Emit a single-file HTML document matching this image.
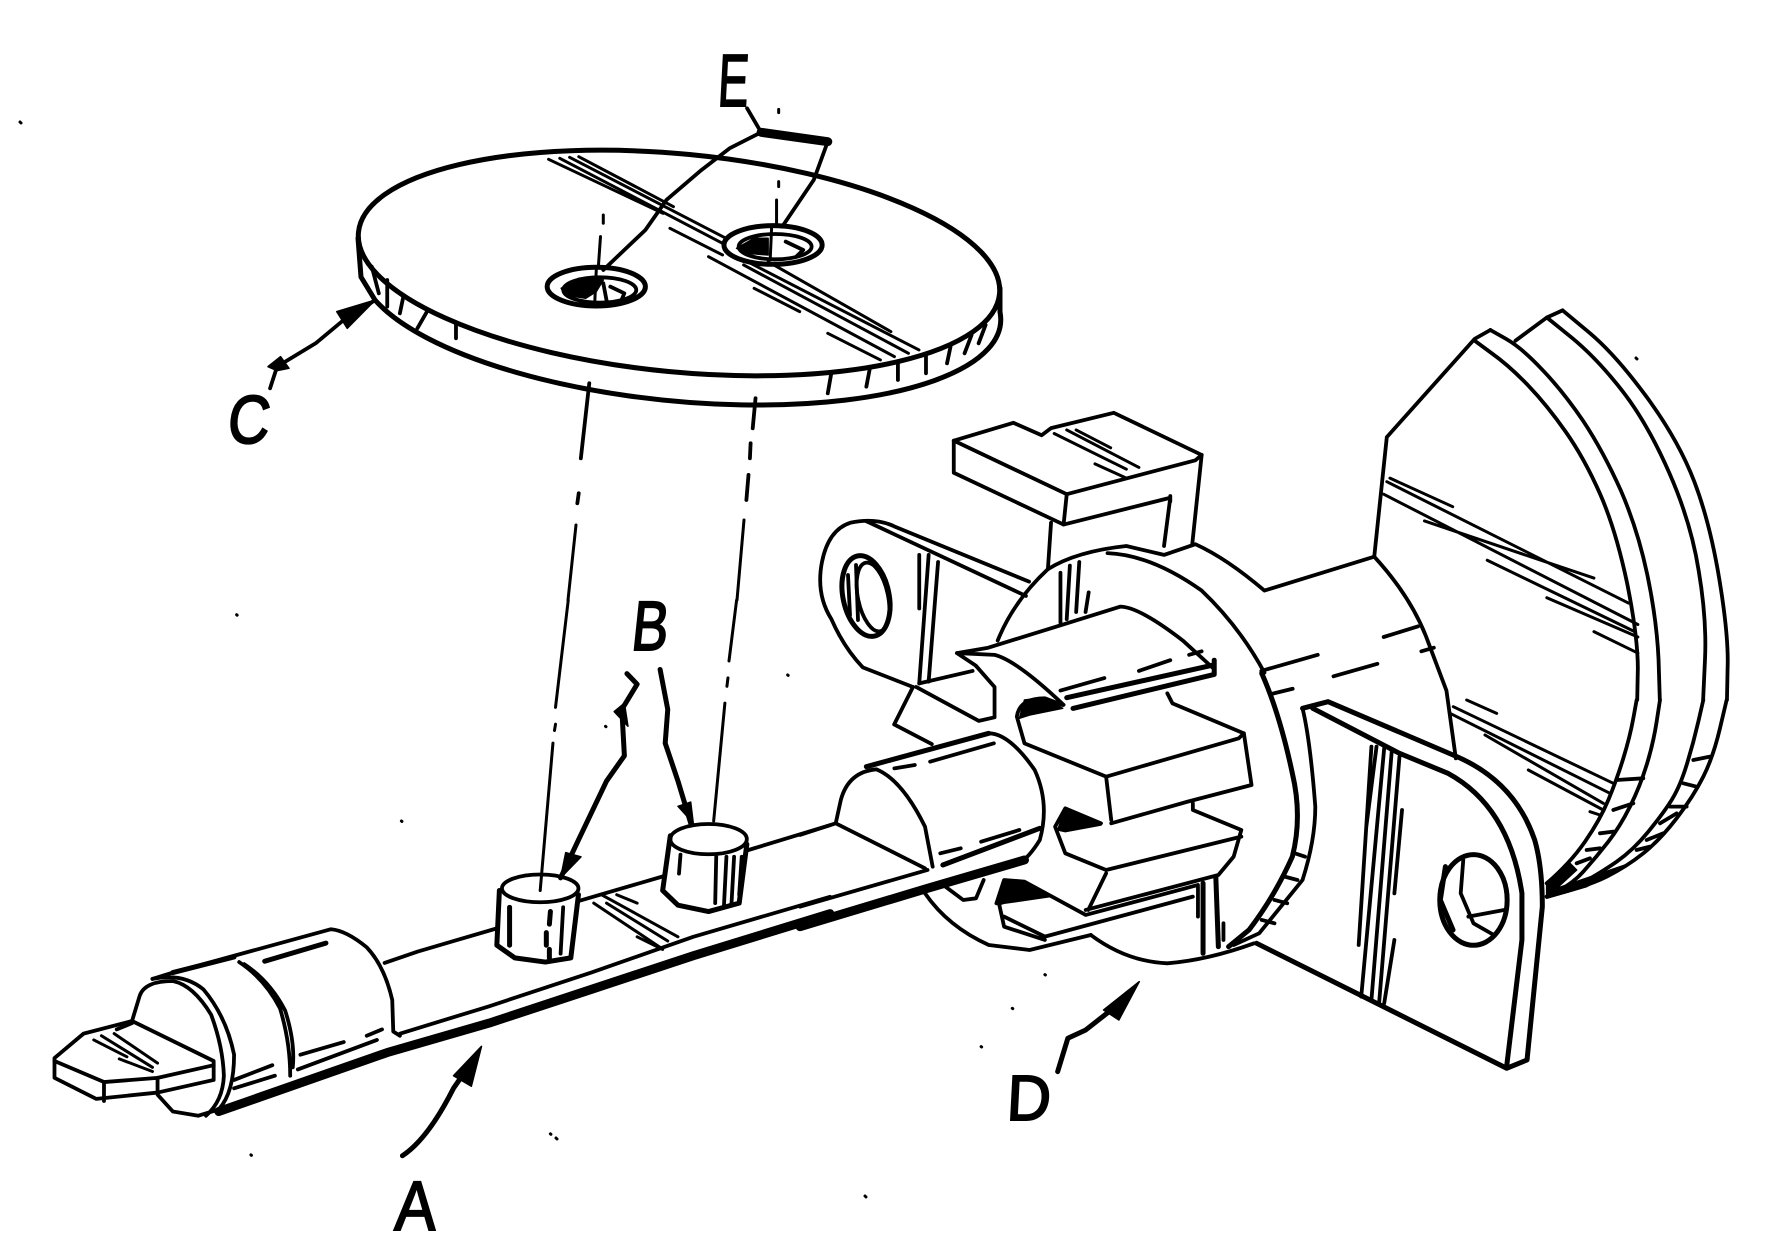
<!DOCTYPE html>
<html><head><meta charset="utf-8"><title>Diagram</title>
<style>
html,body{margin:0;padding:0;background:#fff;width:1784px;height:1260px;overflow:hidden}
svg{display:block}
path,ellipse,line{vector-effect:non-scaling-stroke}
.l{fill:none;stroke:#000;stroke-width:3.8;stroke-linejoin:round;stroke-linecap:round}
.n{stroke-width:3}
.t{stroke-width:5}
.x{stroke-width:9}
.f{fill:#000;stroke:#000;stroke-width:1.5;stroke-linejoin:round}
text{font-family:"Liberation Sans",sans-serif;fill:#000;stroke:#000;stroke-width:2}
</style></head><body>
<svg xmlns="http://www.w3.org/2000/svg" width="1784" height="1260" viewBox="0 0 1784 1260">
<rect width="1784" height="1260" fill="#fff"/>

<!-- Disc (real pixel coordinates) -->
<ellipse class="l t" cx="679" cy="263" rx="322" ry="109" transform="rotate(5.5 679 263)"/>
<path class="l t" d="M358 238L361 277L375 300A322 109 5.5 0 0 1000 312L1000 288"/>

<g transform="scale(.7015,.3333)">
<path class="l" d="M530 800L540 880M552 840L552 920M575 890L570 940M610 930L595 985M650 975L650 1015M1185 1120L1180 1180M1240 1105L1235 1160M1280 1090L1280 1140M1320 1065L1320 1120M1355 1040L1350 1090M1385 1005L1375 1060M1405 975L1395 1030"/>
<path class="l n" d="M825 470L960 620M1095 785L1270 995M812 472L1035 715M1070 790L1310 1050M798 475L1030 730M1060 795L1295 1060M782 478L945 640M1010 770L1275 1070M955 685L1030 765M1075 865L1140 935M1180 1000L1255 1080"/>
<ellipse class="l t" cx="850" cy="860" rx="70" ry="58"/>
<ellipse class="l" cx="855" cy="870" rx="52" ry="38"/>
<path class="f" d="M800 865L825 835L860 840L850 875L835 895L805 885Z"/>
<path class="l" d="M870 860L890 880L885 905M860 850L865 905"/>
<ellipse class="l t" cx="1102" cy="735" rx="70" ry="58"/>
<ellipse class="l" cx="1105" cy="740" rx="52" ry="38"/>
<path class="f" d="M1050 745L1075 715L1095 715L1095 765L1065 760Z"/>
<path class="l" d="M1120 725L1145 750L1135 770"/>
<path class="l" d="M1065 325L1085 397M1180 425L1160 540L1115 680M1085 397L1040 445L1000 510L950 600L920 690L860 810"/>
<path class="l x" d="M1085 397L1180 425"/>
<path class="l n" d="M1110 328L1110 338M1110 545L1110 560M1107 600L1107 680M1100 680L1098 775M860 645L860 670M856 710L853 800M850 810L848 900"/>
<path class="l" d="M385 1165L395 1100L450 1030L490 960L535 900"/>
<path class="f" d="M480 935L535 900L495 985Z"/>
<path class="f" d="M382 1100L400 1070L412 1105L395 1112Z"/>
<path class="l" d="M840 1150L828 1375M825 1480L823 1510M1077 1195L1073 1285M1070 1330L1069 1375M1067 1425L1064 1500"/>
</g>

<!-- Centerline joins -->
<path class="l n" d="M576 525L568 600M744 520L737 600"/>

<!-- Left rail, tip, pins -->
<g transform="translate(30,600) scale(.5102,.421)">
<path class="l n" d="M1055 0L1030 255M1030 295L1028 310M1025 340L1000 690M1385 0L1370 145M1368 185L1366 205M1362 245L1340 525"/>
<path class="l" d="M48 1088L105 1030L200 1000L360 1095L360 1140L250 1170L130 1185L48 1135Z"/>
<path class="l" d="M48 1095L145 1145L250 1135L360 1105M145 1145L145 1190M250 1135L250 1175L280 1215L330 1225L370 1210M170 1020L200 1005"/>
<path class="l n" d="M125 1045L190 1085M140 1035L240 1110M165 1030L250 1100M175 1090L240 1120"/>
<path class="l" d="M200 1000L215 940Q225 905 280 905Q320 915 355 985Q378 1060 380 1130Q378 1190 345 1225"/>
<path class="l" d="M240 900Q300 885 340 925Q385 990 400 1080Q400 1170 370 1210"/>
<path class="l" d="M240 900L280 885L400 845L590 782Q620 785 660 825Q695 870 710 950L712 1025L725 1035"/>
<path class="l" d="M410 860Q460 900 490 970Q510 1050 510 1130M420 865Q470 905 500 975Q520 1050 515 1110"/>
<path class="l t" d="M460 858L580 815M280 885L400 848"/>
<path class="l" d="M400 1140L475 1105M400 1160L480 1130M530 1080L615 1050M660 1035L690 1020M525 1115L680 1045M695 862L760 835L830 810L915 780M1075 715L1245 655M1405 595L1568 535"/>
<path class="l" d="M725 1030L900 965L1100 885L1300 800L1568 705"/>
<path class="l x" d="M370 1215L700 1075L900 1005L1100 925L1300 845L1568 745"/>
<!-- pin 1 -->
<ellipse class="l" cx="1000" cy="685" rx="75" ry="33"/>
<path class="l t" d="M920 690L915 820L950 850L1010 860L1060 850L1075 700"/>
<path class="l t" d="M940 730L940 820M1020 740L1018 770M1012 790L1012 820M1018 830L1018 850"/>
<path class="l" d="M1045 730L1040 840"/>
<!-- pin 2 -->
<ellipse class="l" cx="1330" cy="568" rx="75" ry="36"/>
<path class="l t" d="M1255 560L1240 690L1270 725L1330 740L1390 720L1405 580"/>
<path class="l" d="M1275 605L1272 650M1345 610L1343 720M1365 610L1360 730M1380 610L1375 720M1395 610L1390 700"/>
<path class="l n" d="M1120 700L1270 800M1105 720L1235 825M1150 700L1190 720M1130 720L1250 810M1190 800L1240 830"/>
<!-- leaders -->
<path class="l t" d="M1170 175L1190 200L1160 260L1165 370L1130 430L1075 570L1040 660"/>
<path class="f" d="M1145 265L1165 245L1172 300Z"/>
<path class="f" d="M1050 600L1080 610L1040 660Z"/>
<path class="l t" d="M1235 165L1250 260L1245 340L1270 430L1295 530"/>
<path class="f" d="M1270 490L1295 480L1300 530Z"/>
<path class="l t" d="M730 1320Q780 1280 830 1160L870 1090"/>
<path class="f" d="M830 1130L885 1060L865 1155Z"/>
<path class="l n" d="M405 35L406 36M728 525L729 526M433 1318L434 1319M1020 1268L1021 1269M1485 178L1486 179M1128 300L1129 301"/>
</g>

<!-- Left lug hole (real pixel coordinates) -->
<ellipse class="l t" cx="866" cy="596" rx="23" ry="41" transform="rotate(-12 866 596)"/>
<ellipse class="l" cx="873" cy="597" rx="15" ry="35" transform="rotate(-12 873 597)"/>
<path class="l" d="M848 575L850 615M856 565L858 620"/>

<!-- Upper right -->
<g transform="translate(800,280) scale(.6276,.357)">
<path class="l" d="M245 450L340 400L385 435L400 415L500 372L640 490L630 505L425 600Z"/>
<path class="l" d="M245 450L245 540L420 685L425 600M420 685L590 610L580 745M640 490L625 740M590 605L590 620M400 680L395 810"/>
<path class="l n" d="M405 430L520 530M425 420L540 525M440 420L495 470M470 515L520 555"/>
<path class="l" d="M365 845L150 690Q120 665 80 680Q45 700 35 790Q25 880 50 950Q70 1030 100 1085L180 1140M105 675L360 885"/>
<path class="l" d="M190 770L190 920M205 770L190 1130M220 790L205 1125"/>
<path class="l" d="M180 1140L150 1245L210 1300M185 1140L285 1235L310 1225L310 1140L280 1080L250 1045L300 1030L410 970L510 915Q540 915 610 1010L660 1090M250 1045L310 1050Q345 1065 420 1190M190 1130L275 1095"/>
<path class="l" d="M415 1150L485 1115M540 1095L590 1065M620 1050L640 1040"/>
<path class="l t" d="M425 1170L660 1078M435 1200L660 1105M660 1065L660 1105"/>
<path class="l" d="M315 1010Q340 900 395 810Q440 760 520 745L580 770L630 740Q680 780 740 870L915 775M490 765Q560 770 640 870Q700 970 740 1100"/>
<path class="l" d="M415 820L415 960M430 800L425 950M445 790L440 930M460 875L455 930"/>
<path class="l" d="M915 775Q975 890 1000 1010L1030 1150L1045 1340M915 775L935 440L1075 165L1100 140"/>
<path class="l" d="M1075 170L1102 205Q1130 240 1160 295Q1190 350 1220 425Q1250 500 1275 600Q1300 700 1318 850Q1335 1000 1335 1088L1334 1176"/>
<path class="l" d="M1100 140L1125 165Q1150 190 1182 250Q1215 310 1248 395Q1280 480 1308 590Q1335 700 1350 825Q1365 950 1368 1063L1370 1176"/>
<path class="l" d="M1140 170L1190 105L1215 85"/>
<path class="l" d="M1190 105L1230 162Q1270 220 1310 310Q1350 400 1385 540Q1420 680 1432 815Q1445 950 1442 1063L1439 1176"/>
<path class="l" d="M1215 85L1258 148Q1300 210 1350 330Q1400 450 1425 565Q1450 680 1465 840Q1480 1000 1478 1088L1477 1176"/>
<path class="l n" d="M935 565L1320 905M930 600L1335 965M995 675L1265 835M1095 785L1330 985M1190 890L1335 1000M1265 985L1335 1045M940 555L1040 635"/>
<path class="l" d="M930 1000L985 970M990 1040L1010 1030M735 1095L825 1050M850 1110L920 1075M750 1160L785 1145"/>
</g>

<!-- Lower middle -->
<g transform="translate(800,640) scale(.5102,.3333)">
<path class="l" d="M70 550L0 585M70 550L80 480Q95 395 150 388Q200 420 245 560L260 680M70 550L245 685M370 280Q410 280 460 390Q490 490 470 600Q450 650 430 670L260 740"/>
<path class="l t" d="M130 380L370 280"/>
<path class="l" d="M255 365L380 310M185 385L225 375M275 640L315 625M355 605L430 570"/>
<path class="l t" d="M280 675L470 565"/>
<path class="l" d="M0 800L250 690"/>
<path class="l x" d="M0 860L250 745L440 660"/>
<path class="l" d="M245 760Q290 860 370 915L450 930L570 885M285 740L320 780L345 775L360 720"/>
<path class="l" d="M720 160L730 190L870 280L860 295L600 410L440 310L425 230Q430 175 480 175L515 195M870 280L885 435L760 485L610 550M600 410L610 540"/>
<path class="f" d="M430 235L440 180L480 172L515 205L450 225Z"/>
<path class="l" d="M770 490L770 510L865 570L850 650L820 705L560 810M865 590L600 690L520 640L500 560L520 505L590 550M600 700L565 810"/>
<path class="f" d="M505 570L520 505L580 545L590 555L520 575Z"/>
<path class="l" d="M385 790L400 720L440 725L560 825L780 735M400 830L480 890L770 770M390 790L400 860L480 900"/>
<path class="f" d="M388 795L400 720L440 725L490 770L400 790Z"/>
<path class="l" d="M570 885Q640 965 720 970Q800 960 890 910M780 740L780 830"/>
<path class="l t" d="M790 730L790 940M815 710L820 920"/>
<path class="l" d="M830 850L830 900"/>
<path class="l t" d="M905 100Q940 220 965 400Q985 530 965 650Q930 770 880 870L840 920"/>
<path class="l" d="M985 205Q1000 300 1010 500Q1010 600 985 720L900 880L850 915"/>
<path class="l" d="M970 640L990 650M950 710L975 720M930 780L955 790M905 840L930 850"/>
<!-- right lug -->
<path class="l t" d="M985 205L1035 185L1280 345Q1400 420 1440 600Q1455 680 1455 800L1425 1260L1385 1285L895 910"/>
<path class="l t" d="M1005 205L1175 340L1270 400Q1390 500 1415 760L1415 900L1385 1280"/>
<ellipse class="l t" cx="1320" cy="780" rx="66" ry="136"/>
<path class="l" d="M1300 660L1295 760L1320 850L1360 885M1310 830L1380 810"/>
<path class="l t" d="M1265 680L1255 780L1280 870"/>
<path class="l" d="M1130 320L1110 560M1145 325L1100 1070M1160 330L1120 1080M1175 350L1135 1090M1180 510L1165 760M1165 900L1145 1090M1120 320L1095 915"/>
<!-- D leader -->
<path class="l t" d="M505 1295L525 1195L560 1170L610 1110"/>
<path class="f" d="M595 1110L665 1025L625 1140Z"/>
<path class="l n" d="M480 1004L481 1005M416 1105L417 1106M355 1220L356 1221"/>
</g>

<!-- Dome bottom -->
<g transform="translate(1400,700) scale(.3333,.3333)">
<path class="l" d="M710 0L700 55Q690 110 670 175Q650 240 625 300Q600 360 555 425Q510 490 440 550"/>
<path class="l" d="M780 0L770 65Q760 130 740 195Q720 260 690 320Q660 380 625 425Q590 470 550 515Q510 560 440 590"/>
<path class="l" d="M910 0L895 65Q880 130 860 195Q840 260 815 300Q790 340 745 395Q700 450 650 485Q600 520 510 570"/>
<path class="l" d="M980 0L960 85Q940 170 910 230Q880 290 830 355Q780 420 730 460Q680 500 620 530Q560 560 440 590"/>
<path class="f" d="M440 550L510 490L530 510L470 565L690 490L560 560L440 595Z"/>
<path class="l" d="M650 240L730 235M640 330L700 310M600 400L640 395M560 450L600 445M530 490L570 475M880 180L930 170M850 250L890 260M810 320L860 320M780 370L830 340M740 420L790 400M710 450L750 440"/>
<path class="l n" d="M160 20L640 250M150 40L630 280M255 105L610 310M385 210L610 330M200 0L290 40M570 335L600 345"/>
</g>

<!-- Labels -->
<g transform="translate(226,443) skewX(-6) scale(.85,1)"><text font-size="68">C</text></g>
<g transform="translate(717,106) skewX(-3) scale(.62,1)"><text font-size="74">E</text></g>
<g transform="translate(630,650) skewX(-6) scale(.78,1)"><text font-size="70">B</text></g>
<g transform="translate(394,1230) skewX(-3) scale(.88,1)"><text font-size="70">A</text></g>
<g transform="translate(1006,1120) skewX(-3) scale(.95,1)"><text font-size="64">D</text></g>

<!-- Specks -->
<path class="l n" d="M20 122L21 123M556 1138L557 1139M865 1196L866 1197M1636 358L1637 359"/>
</svg>
</body></html>
